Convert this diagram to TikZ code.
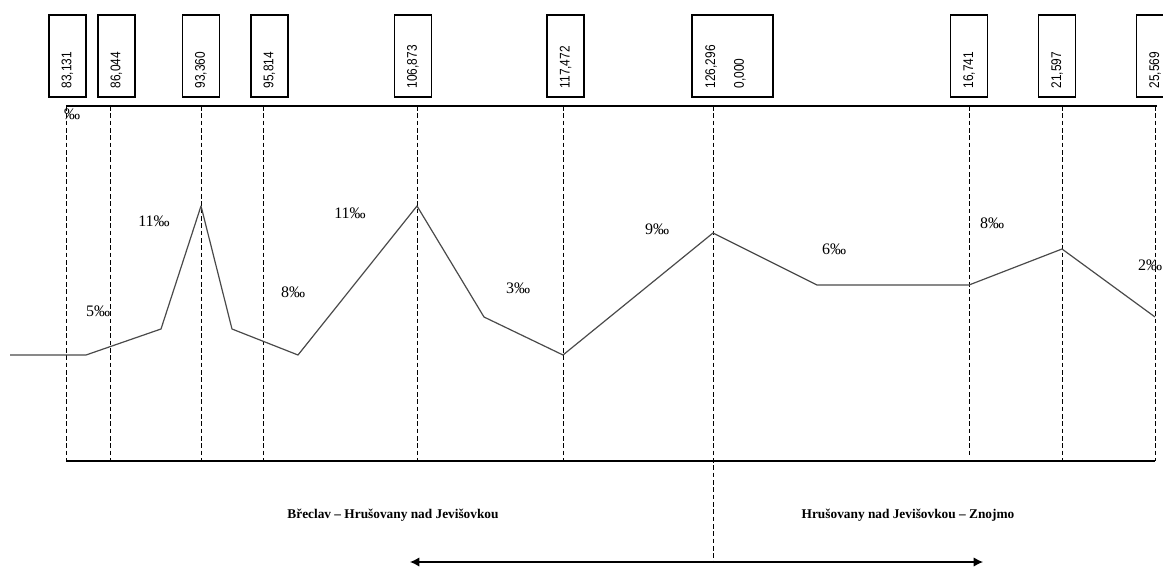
\documentclass[tikz,border=0pt]{standalone}
\usepackage{fontspec}
\setmainfont{Liberation Serif}
\newfontfamily\kmfont[FakeStretch=0.85]{Liberation Sans}
\usetikzlibrary{arrows.meta,positioning}
\definecolor{ProfileGray}{HTML}{4A4A4A}

\begin{document}
\begin{tikzpicture}[x=0.75pt,y=-0.75pt,
  kmbox/.style={draw,line width=0.9pt,minimum width=27.75pt,minimum height=61.5pt,inner sep=0pt},
  kmtext/.style={font=\kmfont\fontsize{10.5}{12}\selectfont,rotate=90,anchor=west,inner sep=0pt},
  grade/.style={font=\fontsize{12}{14}\selectfont,inner sep=0pt},
  section/.style={font=\bfseries\fontsize{10}{12}\selectfont,inner sep=0pt},
  station/.style={dash pattern=on 3.5pt off 2pt,line width=0.75pt}]
  \useasboundingbox (0,0) rectangle (1163,567);
  % kilometre boxes
  \foreach \x/\km/\n in {67.5/{83,131}/a,116.5/{86,044}/b,201/{93,360}/c,269.5/{95,814}/d,413/{106,873}/e,
      565.5/{117,472}/f,969/{16,741}/h,1057/{21,597}/i,1155/{25,569}/j}{
    \node[kmbox] (box\n) at (\x,56) {};
    \node[kmtext] at ([yshift=6.75pt]box\n.south) {\km};
  }
  \node[kmbox,minimum width=60.75pt] (boxg) at (732.5,56) {};
  \node[kmtext] at ([xshift=-16pt,yshift=6.75pt]boxg.south) {126,296};
  \node[kmtext] at ([xshift=5.6pt,yshift=6.75pt]boxg.south) {0,000};
  % axis lines and stations
  \draw[line width=0.9pt] (66,106) -- (1157,106); \draw[line width=0.9pt] (66,461) -- (1155,461);
  \node[grade] (unit) at (72,114) {‰};
  \foreach \x in {66,110,201,263,417,563,1062,1155} \draw[station] (\x,106) -- (\x,461);
  \draw[station] (969,106) -- (969,456); \draw[station] (713,106) -- (713,562);
  % gradient profile
  \draw[ProfileGray,line width=0.9pt,line join=round] (10,355) -- (86,355) -- (161,329) -- (201,206) -- (232,329)
    -- (298,355) -- (417,206) -- (484,317) -- (563,355) -- (713,233) -- (817,285) -- (969,285) -- (1062,249) -- (1155,317);
  \node[grade] (g1) at (98,311) {5‰};   \node[grade] (g2) at (154,221) {11‰};
  \node[grade] (g3) at (293,292) {8‰};  \node[grade] (g4) at (350,213) {11‰};
  \node[grade] (g5) at (518,288) {3‰};  \node[grade] (g6) at (657,229) {9‰};
  \node[grade] (g7) at (834,249) {6‰};  \node[grade] (g8) at (992,223) {8‰};
  \node[grade] (g9) at (1150,265) {2‰};
  % line sections
  \node[section] (sec1) at (393,515) {Břeclav – Hrušovany nad Jevišovkou};
  \node[section] (sec2) at (908,515) {Hrušovany nad Jevišovkou – Znojmo};
  \coordinate (wend) at (410,562); \coordinate (eend) at (983,562);
  \draw[{Latex[length=7pt,width=7pt]}-{Latex[length=7pt,width=7pt]},line width=0.9pt] (wend) -- (eend);
\end{tikzpicture}
\end{document}
